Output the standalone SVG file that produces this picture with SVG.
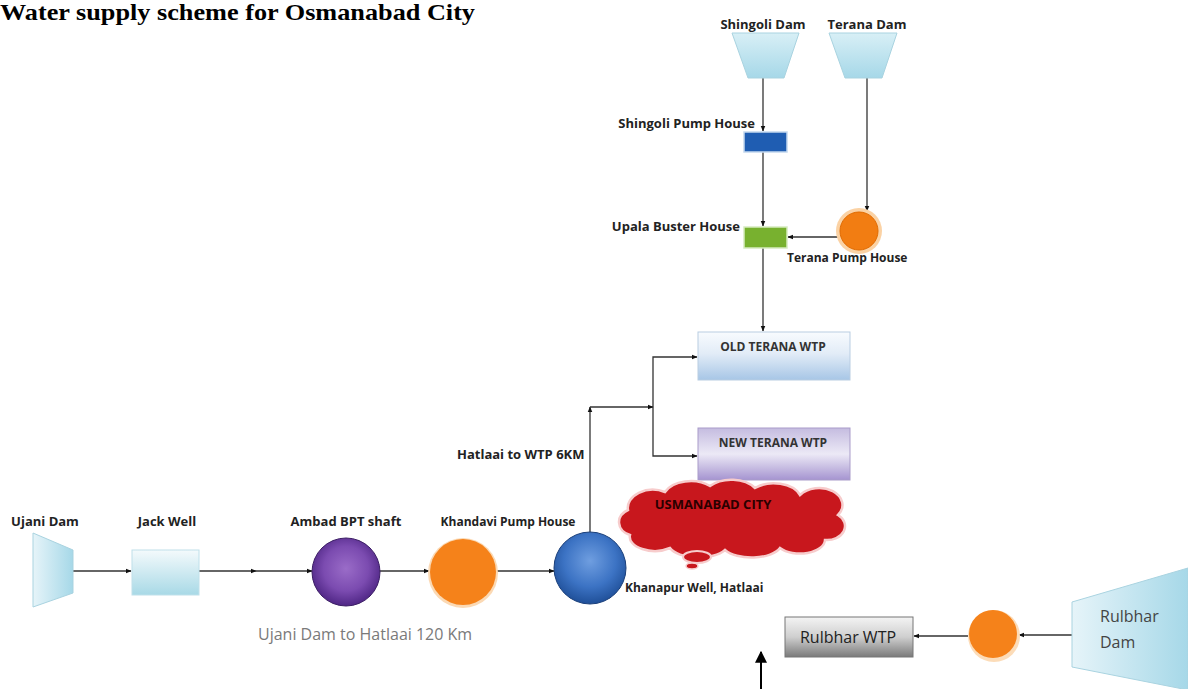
<svg xmlns="http://www.w3.org/2000/svg" width="1188" height="689" viewBox="0 0 1188 689">
<style>
.lbl{font-family:"Open Sans","Liberation Sans",sans-serif;font-weight:bold;font-size:13px;fill:#222}
.sm{font-size:12px}
.wtp{font-family:"Open Sans","Liberation Sans",sans-serif;font-weight:bold;font-size:12px;fill:#333;text-anchor:middle}
.con{stroke:#333;stroke-width:1.3;fill:none}
.dam{stroke:#a9d3e0;stroke-width:1}
.reg{font-family:"Open Sans","Liberation Sans",sans-serif;font-size:16px}
</style>
<defs>
<marker id="arr" viewBox="0 0 10 10" refX="9" refY="5" markerWidth="6" markerHeight="6" orient="auto" markerUnits="userSpaceOnUse">
<path d="M0,1 L10,5 L0,9 Z" fill="#111"/>
</marker>
<marker id="big" viewBox="0 0 10 10" refX="9" refY="5" markerWidth="12" markerHeight="12" orient="auto" markerUnits="userSpaceOnUse">
<path d="M0,0 L10,5 L0,10 Z" fill="#000"/>
</marker>
<linearGradient id="gDam" x1="0" y1="0" x2="0" y2="1">
<stop offset="0" stop-color="#d8eff6"/><stop offset="1" stop-color="#a6d8e8"/>
</linearGradient>
<linearGradient id="gDamH" x1="0" y1="0" x2="1" y2="0">
<stop offset="0" stop-color="#e6f4f9"/><stop offset="1" stop-color="#a6d8e8"/>
</linearGradient>
<linearGradient id="gJack" x1="0" y1="0" x2="0" y2="1">
<stop offset="0" stop-color="#f4fafc"/><stop offset="1" stop-color="#a8d9e6"/>
</linearGradient>
<linearGradient id="gOld" x1="0" y1="0" x2="0" y2="1">
<stop offset="0" stop-color="#f8fbfe"/><stop offset="0.45" stop-color="#e2ecf7"/><stop offset="1" stop-color="#a7c6e6"/>
</linearGradient>
<linearGradient id="gNew" x1="0" y1="0" x2="0" y2="1">
<stop offset="0" stop-color="#c5bce0"/><stop offset="0.5" stop-color="#ece9f6"/><stop offset="1" stop-color="#a594d0"/>
</linearGradient>
<linearGradient id="gGray" x1="0" y1="0" x2="0" y2="1">
<stop offset="0" stop-color="#f4f4f4"/><stop offset="0.5" stop-color="#cfcfcf"/><stop offset="1" stop-color="#7a7a7a"/>
</linearGradient>
<radialGradient id="gPurple" cx="0.5" cy="0.45" r="0.55">
<stop offset="0" stop-color="#9a6cc8"/><stop offset="0.6" stop-color="#7b4bb0"/><stop offset="1" stop-color="#4f2685"/>
</radialGradient>
<radialGradient id="gBlue" cx="0.5" cy="0.4" r="0.6">
<stop offset="0" stop-color="#6f9ee0"/><stop offset="0.6" stop-color="#3c73c4"/><stop offset="1" stop-color="#1f4f98"/>
</radialGradient>
</defs>
<rect width="1188" height="689" fill="#fff"/>

<text x="0" y="20" font-family="'Liberation Serif',serif" font-weight="bold" font-size="23" fill="#000" textLength="475" lengthAdjust="spacingAndGlyphs">Water supply scheme for Osmanabad City</text>

<g id="connectors">
<line class="con" x1="763" y1="78" x2="763" y2="131" marker-end="url(#arr)"/>
<line class="con" x1="763" y1="152" x2="763" y2="226" marker-end="url(#arr)"/>
<line class="con" x1="867" y1="78" x2="867" y2="211" marker-end="url(#arr)"/>
<line class="con" x1="852" y1="237" x2="788" y2="237" marker-end="url(#arr)"/>
<line class="con" x1="763" y1="248" x2="763" y2="331" marker-end="url(#arr)"/>
<line class="con" x1="590" y1="532" x2="590" y2="407" marker-end="url(#arr)"/>
<line class="con" x1="590" y1="407" x2="653" y2="407" marker-end="url(#arr)"/>
<path class="con" d="M653,407 V357 H697" marker-end="url(#arr)"/>
<path class="con" d="M653,407 V456 H697" marker-end="url(#arr)"/>
<line class="con" x1="58" y1="571" x2="131" y2="571" marker-end="url(#arr)"/>
<line class="con" x1="199" y1="571" x2="256" y2="571" marker-end="url(#arr)"/>
<line class="con" x1="256" y1="571" x2="312" y2="571" marker-end="url(#arr)"/>
<line class="con" x1="379" y1="571" x2="429" y2="571" marker-end="url(#arr)"/>
<line class="con" x1="497" y1="571" x2="554" y2="571" marker-end="url(#arr)"/>
<line class="con" x1="1073" y1="635" x2="1019" y2="635" marker-end="url(#arr)"/>
<line class="con" x1="968" y1="636" x2="914" y2="636" marker-end="url(#arr)"/>
<line x1="761" y1="689" x2="761" y2="652" stroke="#000" stroke-width="2" marker-end="url(#big)"/>
</g>

<g id="shingoli-dam">
<polygon class="dam" points="732,33 799,33 784,78 748,78" fill="url(#gDam)"/>
<text class="lbl" x="763" y="29" text-anchor="middle">Shingoli Dam</text>
</g>
<g id="terana-dam">
<polygon class="dam" points="829,33 897,33 882,78 845,78" fill="url(#gDam)"/>
<text class="lbl" x="867" y="29" text-anchor="middle">Terana Dam</text>
</g>
<g id="shingoli-pump">
<rect x="744" y="132" width="43" height="20" fill="#1f5db2" stroke="#c4d8ee" stroke-width="1.5"/>
<text class="lbl" x="755" y="128" text-anchor="end">Shingoli Pump House</text>
</g>
<g id="upala-buster">
<rect x="744" y="227" width="43" height="21" fill="#78b12f" stroke="#d6ebc0" stroke-width="1.5"/>
<text class="lbl" x="740" y="231" text-anchor="end">Upala Buster House</text>
</g>
<g id="terana-pump">
<circle cx="859" cy="231" r="23" fill="#fbd2a4"/>
<circle cx="859" cy="231" r="19" fill="#f27d12" stroke="#e06a00" stroke-width="1"/>
<text class="lbl sm" x="787" y="262">Terana Pump House</text>
</g>
<g id="old-wtp">
<rect x="698" y="332" width="152" height="48" fill="url(#gOld)" stroke="#b9cde2" stroke-width="1"/>
<text class="wtp" x="773" y="351">OLD TERANA WTP</text>
</g>
<g id="new-wtp">
<rect x="698" y="428" width="152" height="52" fill="url(#gNew)" stroke="#a99cc9" stroke-width="1"/>
<text class="wtp" x="773" y="447">NEW TERANA WTP</text>
</g>
<text class="lbl" x="457" y="459">Hatlaai to WTP 6KM</text>

<g id="osmanabad-city">
<path d="M630,535 A18,14 0 0 1 628,510 A25,18 0 0 1 665,492 A28,18 0 0 1 710,486 A28,18 0 0 1 755,488 A28,18 0 0 1 800,495 A22,16 0 0 1 838,515 A18,14 0 0 1 825,540 A25,14 0 0 1 780,548 A30,14 0 0 1 725,550 A30,14 0 0 1 670,548 A25,14 0 0 1 630,535 Z" fill="#c8171d" stroke="#f7cccc" stroke-width="2.5"/>
<ellipse cx="697" cy="557" rx="14" ry="6" fill="#c8171d" stroke="#f7cccc" stroke-width="2"/>
<ellipse cx="692" cy="566" rx="6" ry="3" fill="#c8171d" stroke="#f7cccc" stroke-width="1.5"/>
<text class="wtp" x="713" y="509" style="fill:#2a0000;font-size:13px">USMANABAD CITY</text>
</g>

<g id="ujani-dam">
<polygon class="dam" points="33,533 73,550 73,593 33,607" fill="url(#gDamH)"/>
<text class="lbl" x="45" y="526" text-anchor="middle">Ujani Dam</text>
</g>
<g id="jack-well">
<rect x="132" y="550" width="67" height="45" fill="url(#gJack)" stroke="#bfe0ea" stroke-width="1"/>
<text class="lbl" x="167" y="526" text-anchor="middle">Jack Well</text>
</g>
<g id="ambad-bpt">
<circle cx="346" cy="572" r="34" fill="url(#gPurple)" stroke="#3d1f66" stroke-width="1"/>
<text class="lbl" x="346" y="526" text-anchor="middle">Ambad BPT shaft</text>
</g>
<g id="khandavi-pump">
<circle cx="463" cy="573" r="35" fill="#fbd9b4"/>
<circle cx="463" cy="572" r="33" fill="#f5821a"/>
<text class="lbl sm" x="508" y="526" text-anchor="middle">Khandavi Pump House</text>
</g>
<g id="khanapur-well">
<circle cx="590" cy="568" r="36" fill="url(#gBlue)" stroke="#1a3f7a" stroke-width="1"/>
<text class="lbl sm" x="625" y="592">Khanapur Well, Hatlaai</text>
</g>
<text class="reg" x="258" y="640" fill="#7a7a7a">Ujani Dam to Hatlaai 120 Km</text>

<g id="rulbhar-wtp">
<rect x="785" y="617" width="128" height="40" fill="url(#gGray)" stroke="#777" stroke-width="1"/>
<text class="reg" x="848" y="643" fill="#222" text-anchor="middle">Rulbhar WTP</text>
</g>
<g id="rulbhar-pump">
<circle cx="994" cy="636" r="26" fill="#fcdcb8"/>
<circle cx="993" cy="634" r="24" fill="#f5821a"/>
</g>
<g id="rulbhar-dam">
<polygon class="dam" points="1072,602 1188,568 1188,690 1072,667" fill="url(#gDamH)"/>
<text class="reg" x="1100" y="622" fill="#444">Rulbhar</text>
<text class="reg" x="1100" y="648" fill="#444">Dam</text>
</g>
</svg>
